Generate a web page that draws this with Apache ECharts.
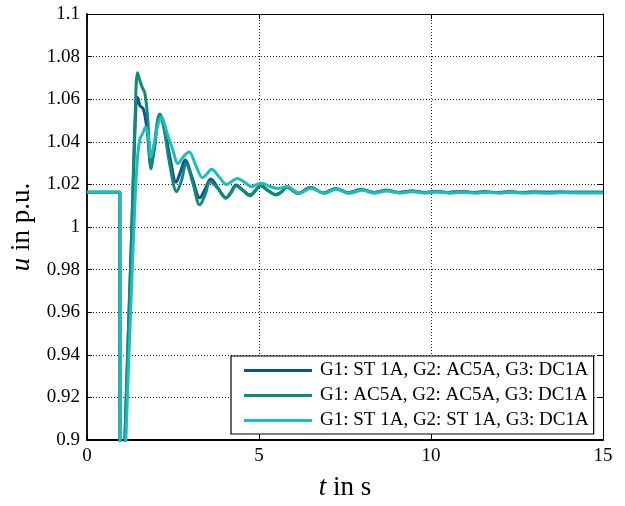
<!DOCTYPE html>
<html>
<head>
<meta charset="utf-8">
<script src="https://cdn.jsdelivr.net/npm/echarts@6/dist/echarts.min.js"></script>
<style>html,body{margin:0;padding:0;background:#fff;}#chart{width:625px;height:506px;}</style>
</head>
<body>
<div id="chart"></div>
<script>
// ---- data ----
var legendNames = [
  'G1: ST 1A, G2: AC5A, G3: DC1A',
  'G1: AC5A, G2: AC5A, G3: DC1A',
  'G1: ST 1A, G2: ST 1A, G3: DC1A'
];
var xTicks = [0, 5, 10, 15];
var yTicks = [0.9, 0.92, 0.94, 0.96, 0.98, 1, 1.02, 1.04, 1.06, 1.08, 1.1];

var tTail = [6.14, 6.50, 6.87, 7.23, 7.60, 7.97, 8.34, 8.70, 9.07, 9.44, 9.80, 10.15, 10.5, 10.85, 11.2, 11.55, 11.9, 12.3, 12.65, 13.0, 13.4, 13.75, 14.1, 15];
var uTail = [1.0158, 1.0186, 1.0160, 1.0180, 1.0161, 1.0176, 1.0162, 1.0172, 1.0162, 1.0169, 1.0162, 1.0167, 1.0162, 1.0166, 1.0162, 1.0165, 1.0162, 1.0165, 1.0162, 1.0164, 1.0163, 1.0164, 1.0163, 1.0163];

var tBlue = [0, 0.9, 0.955, 0.96, 1.03, 1.10, 1.30, 1.42, 1.47, 1.54, 1.64, 1.75, 1.86, 1.96, 2.05, 2.12, 2.25, 2.42, 2.59, 2.72, 2.85, 3.06, 3.28, 3.44, 3.60, 3.82, 4.04, 4.19, 4.33, 4.54, 4.74, 4.89, 5.05, 5.27, 5.48, 5.66, 5.80];
var uBlue = [1.0163, 1.0163, 1.0163, 0.86, 0.86, 0.90, 0.998, 1.056, 1.0608, 1.057, 1.0553, 1.045, 1.029, 1.037, 1.049, 1.052, 1.046, 1.032, 1.0210, 1.026, 1.0315, 1.023, 1.0137, 1.018, 1.0225, 1.018, 1.0137, 1.0165, 1.0197, 1.0172, 1.0150, 1.0170, 1.0195, 1.0170, 1.0152, 1.0166, 1.0188];

var tGreen = [0, 0.9, 0.955, 0.96, 1.03, 1.10, 1.30, 1.42, 1.47, 1.53, 1.62, 1.68, 1.76, 1.86, 1.96, 2.05, 2.12, 2.22, 2.40, 2.61, 2.75, 2.88, 3.07, 3.28, 3.43, 3.58, 3.81, 4.04, 4.19, 4.33, 4.54, 4.74, 4.89, 5.03, 5.27, 5.51, 5.66, 5.80];
var uGreen = [1.0163, 1.0163, 1.0163, 0.86, 0.86, 0.90, 0.998, 1.063, 1.0724, 1.069, 1.065, 1.063, 1.052, 1.0274, 1.038, 1.050, 1.053, 1.048, 1.030, 1.0166, 1.022, 1.0298, 1.021, 1.0104, 1.015, 1.0212, 1.018, 1.0135, 1.016, 1.0194, 1.017, 1.0147, 1.017, 1.0194, 1.017, 1.0150, 1.0165, 1.0188];

var tCyan = [0, 0.9, 0.955, 0.96, 1.05, 1.13, 1.28, 1.40, 1.47, 1.54, 1.62, 1.70, 1.78, 1.86, 1.96, 2.08, 2.17, 2.24, 2.32, 2.48, 2.65, 2.80, 2.97, 3.16, 3.36, 3.49, 3.62, 3.84, 4.06, 4.22, 4.37, 4.58, 4.79, 4.94, 5.08, 5.32, 5.56, 5.70, 5.82, 6.17, 6.52, 6.89, 7.25, 7.62, 7.99, 8.36, 8.72, 9.09, 9.45, 9.82, 10.2, 10.55, 10.9, 11.3, 11.6, 12.0, 12.3, 12.7, 13.0, 13.4, 13.75, 14.2, 15];
var uCyan = [1.0163, 1.0163, 1.0163, 0.86, 0.86, 0.90, 0.965, 1.0135, 1.033, 1.0414, 1.044, 1.0468, 1.043, 1.0329, 1.040, 1.049, 1.0515, 1.049, 1.0445, 1.037, 1.0298, 1.033, 1.0352, 1.029, 1.0231, 1.025, 1.0271, 1.0235, 1.0200, 1.0215, 1.0228, 1.021, 1.0189, 1.020, 1.0205, 1.019, 1.0181, 1.0186, 1.0190, 1.0158, 1.0182, 1.0158, 1.0177, 1.0158, 1.0173, 1.0159, 1.0169, 1.0159, 1.0166, 1.0159, 1.0164, 1.0159, 1.0163, 1.0159, 1.0162, 1.0159, 1.0162, 1.0159, 1.0161, 1.0159, 1.0161, 1.0160, 1.0160];

var colors = ['#0b5290', '#0f8a78', '#1cbdbd'];

function pairs(t, u) { return t.map(function (x, i) { return [x, u[i]]; }); }
var blueData = pairs(tBlue.concat(tTail), uBlue.concat(uTail));
var greenData = pairs(tGreen.concat(tTail), uGreen.concat(uTail));
var cyanData = pairs(tCyan, uCyan);

var font = 'Liberation Serif';
var chart = echarts.init(document.getElementById('chart'), null, {renderer: 'canvas'});

function yFmt(v) { return String(+v.toFixed(2)); }

var nameStyle = {fontFamily: font, fontSize: 27, color: '#000',
  rich: {i: {fontFamily: font, fontSize: 27, fontStyle: 'italic', color: '#000'}}};

var option = {
  animation: false,
  backgroundColor: '#fff',
  grid: {left: 87, right: 22, top: 14, bottom: 62, containLabel: false},
  xAxis: [{
    type: 'value', min: xTicks[0], max: xTicks[xTicks.length - 1], interval: 5,
    position: 'bottom',
    name: '{i|t} in s', nameLocation: 'middle', nameGap: 34,
    nameTextStyle: nameStyle,
    axisLine: {show: true, onZero: false, lineStyle: {color: '#000', width: 1.8}},
    axisTick: {show: true, inside: true, length: 5, lineStyle: {color: '#000', width: 1}},
    axisLabel: {fontFamily: font, fontSize: 19, color: '#000', margin: 7},
    splitLine: {show: true, lineStyle: {color: '#222', type: [1, 2], width: 1}}
  }, {
    type: 'value', min: xTicks[0], max: xTicks[xTicks.length - 1], interval: 5,
    position: 'top',
    axisLine: {show: true, onZero: false, lineStyle: {color: '#000', width: 1}},
    axisTick: {show: true, inside: true, length: 5, lineStyle: {color: '#000'}},
    axisLabel: {show: false}, splitLine: {show: false}
  }],
  yAxis: [{
    type: 'value', min: yTicks[0], max: yTicks[yTicks.length - 1], interval: 0.02,
    position: 'left',
    name: '{i|u} in p.u.', nameLocation: 'middle', nameGap: 45, nameRotate: 90,
    nameTextStyle: nameStyle,
    axisLine: {show: true, onZero: false, lineStyle: {color: '#000', width: 1.8}},
    axisTick: {show: true, inside: true, length: 5, lineStyle: {color: '#000', width: 1}},
    axisLabel: {fontFamily: font, fontSize: 19, color: '#000', margin: 7, formatter: yFmt},
    splitLine: {show: true, lineStyle: {color: '#222', type: [1, 2], width: 1}}
  }, {
    type: 'value', min: yTicks[0], max: yTicks[yTicks.length - 1], interval: 0.02,
    position: 'right',
    axisLine: {show: true, onZero: false, lineStyle: {color: '#000', width: 1}},
    axisTick: {show: true, inside: true, length: 5, lineStyle: {color: '#000'}},
    axisLabel: {show: false}, splitLine: {show: false}
  }],
  legend: {
    orient: 'vertical', left: 231, top: 356,
    backgroundColor: '#fff', borderColor: '#000', borderWidth: 1.2,
    padding: [4, 5, 3, 13], itemGap: 4,
    itemWidth: 68, itemHeight: 3, icon: 'rect',
    textStyle: {fontFamily: font, fontSize: 19, color: '#000', lineHeight: 21, padding: [0, 0, 0, 3]},
    data: legendNames
  },
  series: [
    {name: legendNames[0], type: 'line', data: blueData, showSymbol: false, symbol: 'none', smooth: 0.35, clip: true,
     lineStyle: {color: colors[0], width: 3}, itemStyle: {color: colors[0]}},
    {name: legendNames[1], type: 'line', data: greenData, showSymbol: false, symbol: 'none', smooth: 0.35, clip: true,
     lineStyle: {color: colors[1], width: 3}, itemStyle: {color: colors[1]}},
    {name: legendNames[2], type: 'line', data: cyanData, showSymbol: false, symbol: 'none', smooth: 0.35, clip: true,
     lineStyle: {color: colors[2], width: 3}, itemStyle: {color: colors[2]}}
  ]
};
chart.setOption(option);
</script>
</body>
</html>
